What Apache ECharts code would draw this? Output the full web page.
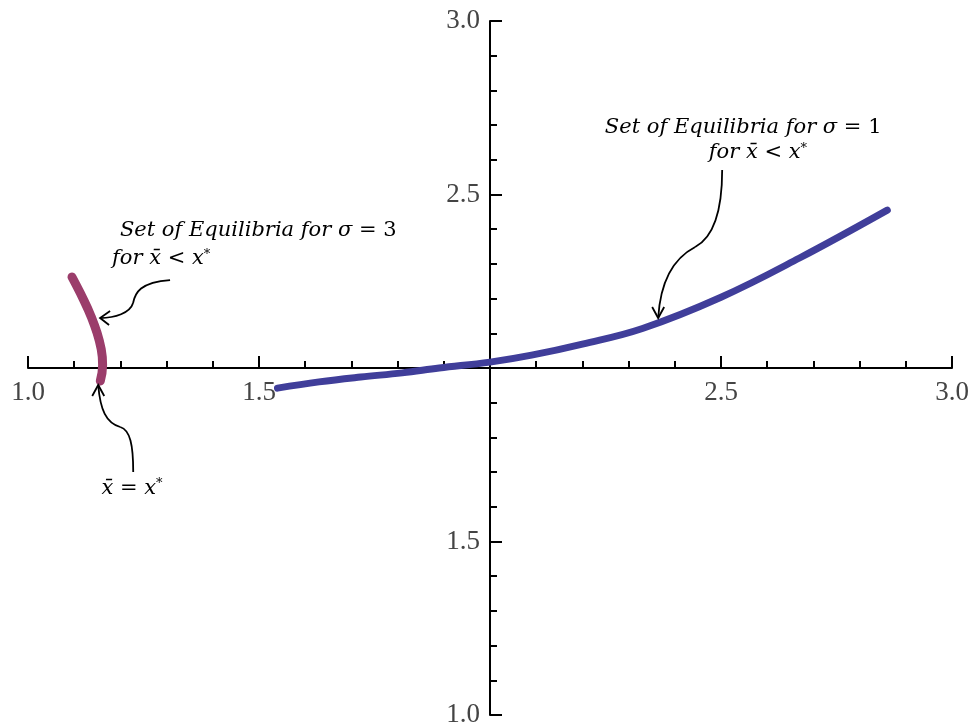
<!DOCTYPE html>
<html>
<head>
<meta charset="utf-8">
<script src="https://cdn.jsdelivr.net/npm/echarts@6/dist/echarts.min.js"></script>
<style>
  html, body { margin: 0; padding: 0; background: #ffffff; }
  #chart { width: 976px; height: 724px; }
</style>
</head>
<body>
<div id="chart"></div>
<script>
// Set of equilibria for sigma = 1 (x, y pairs along the curve)
const sigma1X = [1.54, 1.63, 1.72, 1.81, 1.89, 2.00, 2.09, 2.20, 2.33, 2.50, 2.67, 2.86];
const sigma1Y = [1.942, 1.960, 1.974, 1.986, 2.000, 2.017, 2.037, 2.069, 2.114, 2.204, 2.317, 2.455];

// Set of equilibria for sigma = 3
const sigma3X = [1.0952, 1.1043, 1.1132, 1.1216, 1.1297, 1.1370, 1.1437, 1.1496, 1.1545, 1.1584, 1.1608, 1.1615, 1.1602, 1.1565];
const sigma3Y = [2.2622, 2.2392, 2.2161, 2.1931, 2.1700, 2.1470, 2.1239, 2.1009, 2.0778, 2.0548, 2.0317, 2.0086, 1.9856, 1.9625];

// Axis range, crossing point and tick labels
const axisMin = 1.0;
const axisMax = 3.0;
const axisStep = 0.5;
const axisCross = 2.0;
const xTickLabels = ['1.0', '1.5', '2.5', '3.0'];
const yTickLabels = ['1.0', '1.5', '2.5', '3.0'];

const W = 976, H = 724;
const gridBox = { left: 28, right: 24, top: 21, bottom: 9 };
const gridW = W - gridBox.left - gridBox.right;
const gridH = H - gridBox.top - gridBox.bottom;
const frac = (axisCross - axisMin) / (axisMax - axisMin);

const chart = echarts.init(document.getElementById('chart'), null, { renderer: 'canvas' });

const labelFont = {
  fontFamily: 'Liberation Serif',
  fontSize: 27,
  color: '#444444'
};

function axisCommon(labels) {
  return {
    type: 'value',
    min: axisMin,
    max: axisMax,
    interval: axisStep,
    splitLine: { show: false },
    axisLine: { show: true, onZero: false, lineStyle: { color: '#000', width: 2 } },
    axisTick: { show: true, inside: true, length: 12, lineStyle: { color: '#000', width: 2 } },
    minorTick: { show: true, splitNumber: 5, length: 7, lineStyle: { color: '#000', width: 2 } },
    axisLabel: Object.assign({
      show: true,
      showMinLabel: true,
      showMaxLabel: true,
      formatter: function (v) {
        const s = v.toFixed(1);
        return labels.indexOf(s) >= 0 ? s : '';
      }
    }, labelFont)
  };
}

const xAxis = axisCommon(xTickLabels);
xAxis.position = 'bottom';
xAxis.offset = -gridH * frac;
xAxis.axisLabel.margin = 11;

const yAxis = axisCommon(yTickLabels);
yAxis.position = 'left';
yAxis.offset = -gridW * frac;
yAxis.axisLabel.margin = 10;

function pairs(xs, ys) {
  return xs.map((x, i) => [x, ys[i]]);
}

chart.setOption({
  animation: false,
  backgroundColor: '#ffffff',
  grid: Object.assign({ containLabel: false, outerBoundsMode: 'none' }, gridBox),
  xAxis: xAxis,
  yAxis: yAxis,
  series: [
    {
      name: 'sigma = 1',
      type: 'line',
      data: pairs(sigma1X, sigma1Y),
      smooth: 0.4,
      showSymbol: false,
      lineStyle: { color: '#403e9a', width: 7, cap: 'round' },
      z: 3
    },
    {
      name: 'sigma = 3',
      type: 'line',
      data: pairs(sigma3X, sigma3Y),
      smooth: false,
      showSymbol: false,
      lineStyle: { color: '#9b3d6b', width: 9, cap: 'round', join: 'round' },
      z: 3
    }
  ]
});

// Annotation text and curved arrows, anchored in data coordinates
const P = (x, y) => chart.convertToPixel({ gridIndex: 0 }, [x, y]);

const noteFont = 'DejaVu Serif';
const noteSize = 21;
const rich = {
  it: { fontFamily: noteFont, fontStyle: 'italic', fontSize: noteSize, color: '#000' },
  up: { fontFamily: noteFont, fontStyle: 'normal', fontSize: noteSize, color: '#000' },
  sup: { fontFamily: noteFont, fontStyle: 'normal', fontSize: 13, color: '#000', verticalAlign: 'top' }
};

function note(dataPt, text, align) {
  const p = P(dataPt[0], dataPt[1]);
  return {
    type: 'text',
    x: p[0],
    y: p[1],
    style: { text: text, rich: rich, align: align, verticalAlign: 'middle' },
    z: 10
  };
}

const stroke = { fill: null, stroke: '#000', lineWidth: 1.8 };

// segs: cubic segments [x1,y1, c1x,c1y, c2x,c2y, x2,y2] relative to the tip
function arrow(tip, segs, head) {
  const p = P(tip[0], tip[1]);
  const els = segs.map(s => ({
    type: 'bezierCurve',
    x: p[0], y: p[1],
    shape: { x1: s[0], y1: s[1], cpx1: s[2], cpy1: s[3], cpx2: s[4], cpy2: s[5], x2: s[6], y2: s[7] },
    style: Object.assign({}, stroke),
    z: 10
  }));
  els.push({
    type: 'polyline',
    x: p[0], y: p[1],
    shape: { points: head },
    style: Object.assign({}, stroke),
    z: 10
  });
  return els;
}

const line2 = '{it|for x\u0304 }{up|< }{it|x}{sup|*}';

chart.setOption({
  graphic: [
    note([2.548, 2.692], '{it|Set of Equilibria for σ }{up|= 1}', 'center'),
    note([2.580, 2.622], line2, 'center'),
    note([1.199, 2.395], '{it|Set of Equilibria for σ }{up|= 3}', 'left'),
    note([1.182, 2.314], line2, 'left'),
    note([1.225, 1.654], '{it|x\u0304 }{up|= }{it|x}{sup|*}', 'center'),
    ...arrow([2.364, 2.144],
      [[64, -148, 64, -103, 54, -80, 37, -71], [37, -71, 12, -58, 2, -33, 0, 0]],
      [[-6, -11], [0, 0], [6, -11]]),
    ...arrow([1.156, 2.144],
      [[70, -38, 40, -36, 35, -25, 33, -15], [33, -15, 30, -5, 15, 0, 0, 0]],
      [[10, -7], [0, 0], [9, 7]]),
    ...arrow([1.152, 1.951],
      [[35, 87, 35, 60, 32, 45, 22, 42], [22, 42, 8, 38, 2, 25, 0, 0]],
      [[-6, 11], [0, 0], [6, 11]])
  ]
});
</script>
</body>
</html>
